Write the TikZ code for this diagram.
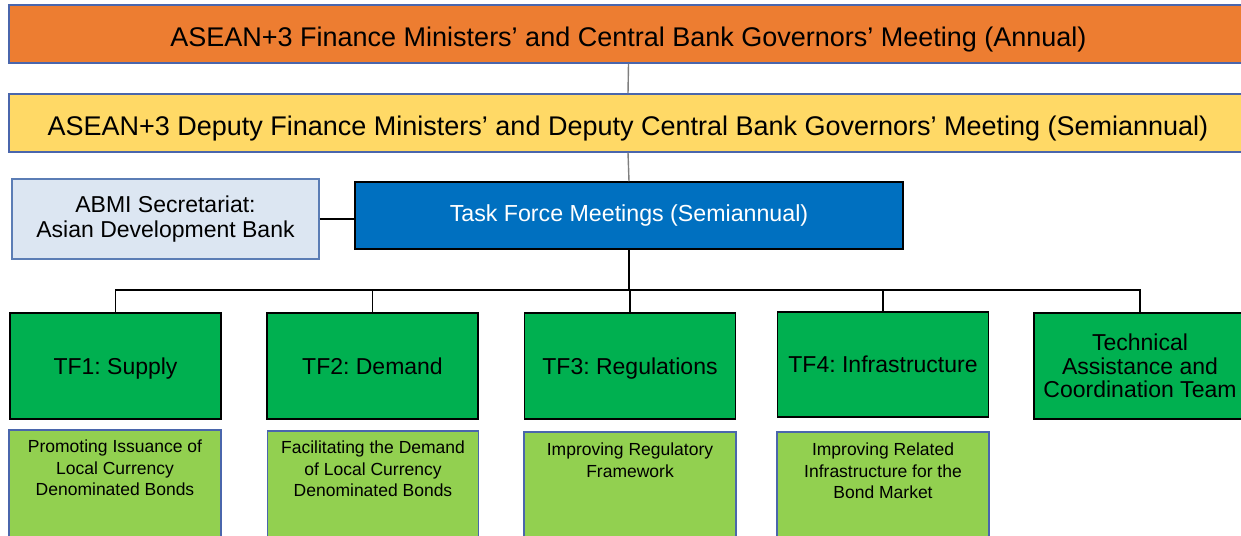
\documentclass[tikz,border=0pt]{standalone}
\usepackage{fontspec}
\setmainfont{Liberation Sans}
\frenchspacing
\definecolor{orangebar}{HTML}{ED7D31}
\definecolor{yellowbar}{HTML}{FFD966}
\definecolor{barline}{HTML}{4A66AC}
\definecolor{abmifill}{HTML}{DCE6F2}
\definecolor{abmiline}{HTML}{5B7DB5}
\definecolor{tfblue}{HTML}{0070C0}
\definecolor{tfgreen}{HTML}{00B050}
\definecolor{subgreen}{HTML}{92D050}
\definecolor{greyline}{HTML}{7F7F7F}
\begin{document}
\begin{tikzpicture}[x=1pt,y=-1pt,
  bar/.style={draw=barline, line width=1.2pt, inner sep=0pt, minimum height=58pt,
    text height=24.4pt, text depth=0pt,
    font=\fontsize{27}{30}\selectfont},
  abmibox/.style={draw=abmiline, fill=abmifill, line width=1.2pt, inner sep=0pt,
    minimum width=307pt, minimum height=80pt, align=center,
    font=\fontsize{23}{25}\selectfont},
  tfbox/.style={draw=black, fill=tfblue, line width=1.5pt, inner sep=0pt,
    minimum width=548pt, minimum height=67pt, text=white,
    font=\fontsize{23.2}{25}\selectfont},
  greenbox/.style={draw=black, fill=tfgreen, line width=1.5pt, inner sep=0pt,
    minimum width=211pt, minimum height=106pt, align=center,
    font=\fontsize{23}{23.5}\selectfont},
  oneline/.style={text height=21.2pt, text depth=4.8pt},
  subbox/.style={draw=barline, fill=subgreen, line width=1.2pt, inner sep=0pt,
    minimum width=212pt, minimum height=110pt},
  subtext/.style={anchor=north, inner sep=0pt, align=center,
    font=\fontsize{17.5}{21.5}\selectfont},
  greyconn/.style={draw=greyline, line width=1.4pt},
  treeconn/.style={draw=black, line width=1.5pt}
]
\useasboundingbox (0,0) rectangle (1241,535);
\clip (0,0) rectangle (1241,535);

% top bars
\node[bar, fill=orangebar, minimum width=1239pt] (fm) at (628.5,34) {ASEAN+3 Finance Ministers’ and Central Bank Governors’ Meeting (Annual)};
\node[bar, fill=yellowbar, minimum width=1238pt] (dfm) at (628,123) {ASEAN+3 Deputy Finance Ministers’ and Deputy Central Bank Governors’ Meeting (Semiannual)};

% secretariat and task force meetings
\node[abmibox] (abmi) at (165.5,219) {ABMI Secretariat:\\Asian Development Bank};
\node[tfbox] (tfm) at (629,215.5) {Task Force Meetings (Semiannual)};

% task forces
\node[greenbox, oneline] (tf1) at (115.5,366) {TF1: Supply};
\node[greenbox, oneline] (tf2) at (372.5,366) {TF2: Demand};
\node[greenbox, oneline] (tf3) at (630,366) {TF3: Regulations};
\node[greenbox, oneline, minimum height=105pt] (tf4) at (883,364.5) {TF4: Infrastructure};
\node[greenbox, minimum width=212pt] (tct) at (1140,366) {Technical\\Assistance and\\Coordination Team};

% sub boxes
\node[subbox] (s1) at (115,485) {};
\node[subbox, minimum width=211pt] (s2) at (373,486) {};
\node[subbox] (s3) at (630,487) {};
\node[subbox] (s4) at (883,487) {};
\node[subtext] at ([yshift=-10.5pt]s1.north) {Promoting Issuance of\\Local Currency\\Denominated Bonds};
\node[subtext] at ([yshift=-10.5pt]s2.north) {Facilitating the Demand\\of Local Currency\\Denominated Bonds};
\node[subtext] at ([yshift=-11.5pt]s3.north) {Improving Regulatory\\Framework};
\node[subtext] at ([yshift=-11.5pt]s4.north) {Improving Related\\Infrastructure for the\\Bond Market};

% connectors
\draw[greyconn] (fm.south) -- (dfm.north);
\draw[greyconn] (dfm.south) -- (tfm.north);
\draw[treeconn] (abmi.east) -- (abmi.east -| tfm.west);
\coordinate (bus) at (629,290);
\draw[treeconn] (tfm.south) -- (bus);
\draw[treeconn] (tf1.north) |- (bus);
\draw[treeconn] (tf2.north) |- (bus);
\draw[treeconn] (tf3.north) |- (bus);
\draw[treeconn] (tf4.north) |- (bus);
\draw[treeconn] (tct.north) |- (bus);
\end{tikzpicture}
\end{document}
